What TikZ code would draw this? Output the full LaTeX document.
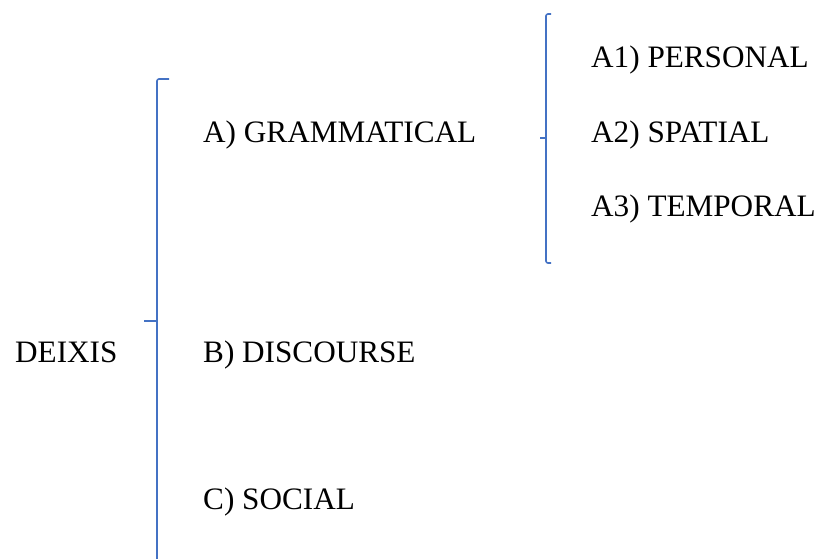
\documentclass[tikz,border=0pt]{standalone}
\usepackage{fontspec}
\setmainfont{Liberation Serif}
\begin{document}
\begin{tikzpicture}[x=1pt,y=-1pt,
  label/.style={anchor=base west,inner sep=0pt,font=\fontsize{31.2}{37}\selectfont},
  brace/.style={draw=braceblue,line width=1.6pt,rounded corners=2pt}]
\definecolor{braceblue}{HTML}{4472C4}
\useasboundingbox (0,0) rectangle (824,558);
% labels
\node[label] (deixis) at (15,362) {DEIXIS};
\node[label] (gram) at (203,142) {A) GRAMMATICAL};
\node[label] (disc) at (203,362) {B) DISCOURSE};
\node[label] (soc) at (203,509) {C) SOCIAL};
\node[label] (pers) at (591,67) {A1) PERSONAL};
\node[label] (spat) at (591,142) {A2) SPATIAL};
\node[label] (temp) at (591,216) {A3) TEMPORAL};
% main brace
\coordinate (bigtop) at (169,79);
\coordinate (bigmid) at (144,321);
\coordinate (bigbot) at (157,570);
\draw[brace] (bigtop) -- (157,79) -- (bigbot);
\draw[brace] (bigmid) -- (157,321);
% brace for the grammatical subtypes
\coordinate (smtop) at (551,14);
\coordinate (smmid) at (540,138);
\coordinate (smbot) at (551,263);
\draw[brace] (smtop) -- (546,14) -- (546,263) -- (smbot);
\draw[brace] (smmid) -- (546,138);
\end{tikzpicture}
\end{document}
